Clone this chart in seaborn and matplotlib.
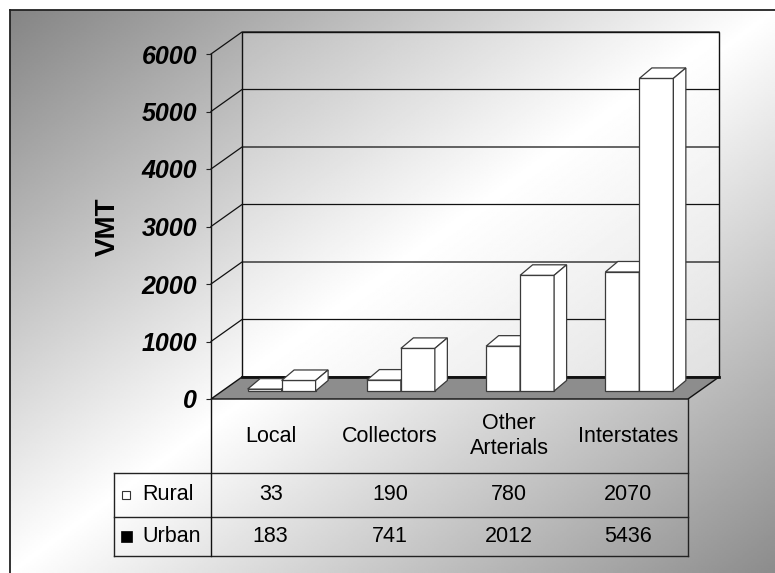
import numpy as np
import pandas as pd
import matplotlib
matplotlib.use("Agg")
import matplotlib.pyplot as plt
import seaborn as sns
from matplotlib.patches import Polygon, Rectangle
from matplotlib.transforms import ScaledTranslation, IdentityTransform

# ---- data -------------------------------------------------------------
categories = ["Local", "Collectors", "Other\nArterials", "Interstates"]
series = ["Rural", "Urban"]
rural_vmt = [33, 190, 780, 2070]
urban_vmt = [183, 741, 2012, 5436]
y_ticks = [0, 1000, 2000, 3000, 4000, 5000, 6000]

plt.rcParams["font.family"] = ["Liberation Sans", "DejaVu Sans"]

W, H, DPI = 775, 573, 100
fig = plt.figure(figsize=(W / DPI, H / DPI), dpi=DPI)

# pixel canvas for background, walls, floor and the data table
bg = fig.add_axes([0, 0, 1, 1], zorder=0)
bg.axis("off")

# front plane of the 3-D plot box
ax = fig.add_axes([211 / W, (H - 399) / H, 477 / W, 345 / H], zorder=1)
ax.patch.set_alpha(0)

df = pd.DataFrame({
    "category": categories * 2,
    "series": [series[0]] * len(categories) + [series[1]] * len(categories),
    "VMT": rural_vmt + urban_vmt,
})
EDGE = "#3a3a3a"
sns.barplot(data=df, x="category", y="VMT", hue="series",
            order=categories, hue_order=series,
            palette={"Rural": "white", "Urban": "white"},
            edgecolor=EDGE, linewidth=0.9, width=0.57,
            errorbar=None, legend=False, ax=ax)

ax.set_xlim(-0.5, 3.5)
ax.set_ylim(0, 6000)
ax.autoscale(False)
ax.set_yticks(y_ticks)
ax.set_xticks([])
ax.set_xlabel("")
ax.set_ylabel("VMT", fontsize=20, fontweight="bold")
ax.yaxis.set_label_coords(-0.19, 0.5)
for s in ax.spines.values():
    s.set_visible(False)
ax.tick_params(axis="y", left=True, length=3.6, width=0.8, color="#222222",
               pad=6.5, labelsize=18)
for t in ax.get_yticklabels():
    t.set_fontweight("bold")
    t.set_fontstyle("italic")

# ---- 3-D geometry (pixel offsets) ----------------------------------------
DEPTH = (31, 22)        # full depth of the plot box
BAR_FRONT = (11, 8)     # where the bar fronts sit inside the box
BAR_DEPTH = (12.5, 10.5)


def px(x, y, d=(0, 0)):
    X, Y = ax.transData.transform((x, y))
    return X + d[0], H - (Y + d[1])


def diag_gradient(nx, ny, lo_start, lo_end):
    u = np.linspace(0, 1, nx)[None, :]
    v = np.linspace(0, 1, ny)[:, None]
    t = (u + v) / 2
    return np.where(t < 0.5,
                    lo_start + (1 - lo_start) * t / 0.5,
                    1 - (1 - lo_end) * (t - 0.5) / 0.5)


# chart area background
bg.imshow(diag_gradient(400, 300, 0.52, 0.55), cmap="gray", vmin=0, vmax=1,
          extent=(10, W, H, 10), aspect="auto", interpolation="bilinear", zorder=0)

# back wall
xL, yB = px(-0.5, 0, DEPTH)
xR, yT = px(3.5, 6000, DEPTH)
bg.imshow(diag_gradient(300, 200, 0.74, 0.88), cmap="gray", vmin=0, vmax=1,
          extent=(xL, xR, yB, yT), aspect="auto", interpolation="bilinear", zorder=1)
bg.add_patch(Rectangle((xL, yT), xR - xL, yB - yT, fill=False,
                       edgecolor="#111111", lw=1.0, zorder=2))

# gridlines on back wall and side wall
for k in y_ticks[1:]:
    a = px(-0.5, k)
    b = px(-0.5, k, DEPTH)
    c = px(3.5, k, DEPTH)
    bg.plot([a[0], b[0], c[0]], [a[1], b[1], c[1]], color="#111111", lw=0.9, zorder=2)

# floor
floor = [px(-0.5, 0), px(3.5, 0), px(3.5, 0, DEPTH), px(-0.5, 0, DEPTH)]
bg.add_patch(Polygon(floor, closed=True, facecolor="#8d8d8d", edgecolor="#111111",
                     lw=1.0, zorder=3))
bg.plot([floor[3][0], floor[2][0]], [floor[3][1], floor[2][1]], color="#111111",
        lw=2.0, zorder=3)

# ---- bars: shift fronts into the box, add tops and sides ---------------
off = ScaledTranslation(BAR_FRONT[0] / DPI, BAR_FRONT[1] / DPI, fig.dpi_scale_trans)
bars = sorted(ax.patches, key=lambda p: p.get_x())
bx, by = BAR_DEPTH
for i, p in enumerate(bars):
    z = 2 + 0.1 * i
    x0, w, h = p.get_x(), p.get_width(), p.get_height()
    X0, Y0 = ax.transData.transform((x0, 0)) + np.array(BAR_FRONT)
    X1, Y1 = ax.transData.transform((x0 + w, h)) + np.array(BAR_FRONT)
    p.set_transform(ax.transData + off)
    p.set_zorder(z)
    p.set_clip_on(False)
    top = [(X0, Y1), (X1, Y1), (X1 + bx, Y1 + by), (X0 + bx, Y1 + by)]
    side = [(X1, Y0), (X1 + bx, Y0 + by), (X1 + bx, Y1 + by), (X1, Y1)]
    for verts in (top, side):
        ax.add_patch(Polygon(verts, closed=True, transform=IdentityTransform(),
                             facecolor="white", edgecolor=EDGE, lw=0.9,
                             zorder=z + 0.05, clip_on=False))

# ---- data table ------------------------------------------------------
fx0, fy0 = px(-0.5, 0)
fx1, _ = px(3.5, 0)
_, ytop = px(-0.5, 6000)
HEADER_H, ROW1_H, ROW2_H, LEG_W = 74, 44, 39, 97
r1 = fy0 + HEADER_H
r2 = r1 + ROW1_H
r3 = r2 + ROW2_H
lx = fx0 - LEG_W
LINE = "#222222"

for yy in (r1, r2, r3):
    bg.plot([lx, fx1], [yy, yy], color=LINE, lw=1.0, zorder=4)
bg.plot([lx, lx], [r1, r3], color=LINE, lw=1.0, zorder=4)
bg.plot([fx0, fx0], [ytop, r3], color="#111111", lw=1.0, zorder=4)
bg.plot([fx1, fx1], [fy0, r3], color=LINE, lw=1.0, zorder=4)

FS = 15.5
for i, cat in enumerate(categories):
    cx = px(i, 0)[0]
    bg.text(cx, fy0 + HEADER_H / 2, cat, ha="center", va="center",
            fontsize=FS, linespacing=1.3, zorder=5)
    bg.text(cx, (r1 + r2) / 2, f"{rural_vmt[i]}", ha="center", va="center",
            fontsize=FS, zorder=5)
    bg.text(cx, (r2 + r3) / 2, f"{urban_vmt[i]}", ha="center", va="center",
            fontsize=FS, zorder=5)

# legend keys inside the table
bg.add_patch(Rectangle((lx + 8, (r1 + r2) / 2 - 4), 8, 8, facecolor="white",
                       edgecolor="#333333", lw=0.8, zorder=5))
bg.add_patch(Rectangle((lx + 7, (r2 + r3) / 2 - 5.5), 11, 11, facecolor="black",
                       edgecolor="black", lw=0.5, zorder=5))
bg.text(lx + 28, (r1 + r2) / 2, series[0], ha="left", va="center", fontsize=FS, zorder=5)
bg.text(lx + 28, (r2 + r3) / 2, series[1], ha="left", va="center", fontsize=FS, zorder=5)

# chart area frame
bg.plot([10, 10], [10, H], color="#222222", lw=1.3, zorder=6)
bg.plot([10, W], [10, 10], color="#222222", lw=1.3, zorder=6)

bg.set_xlim(0, W)
bg.set_ylim(H, 0)

fig.savefig("out.png", dpi=DPI)
